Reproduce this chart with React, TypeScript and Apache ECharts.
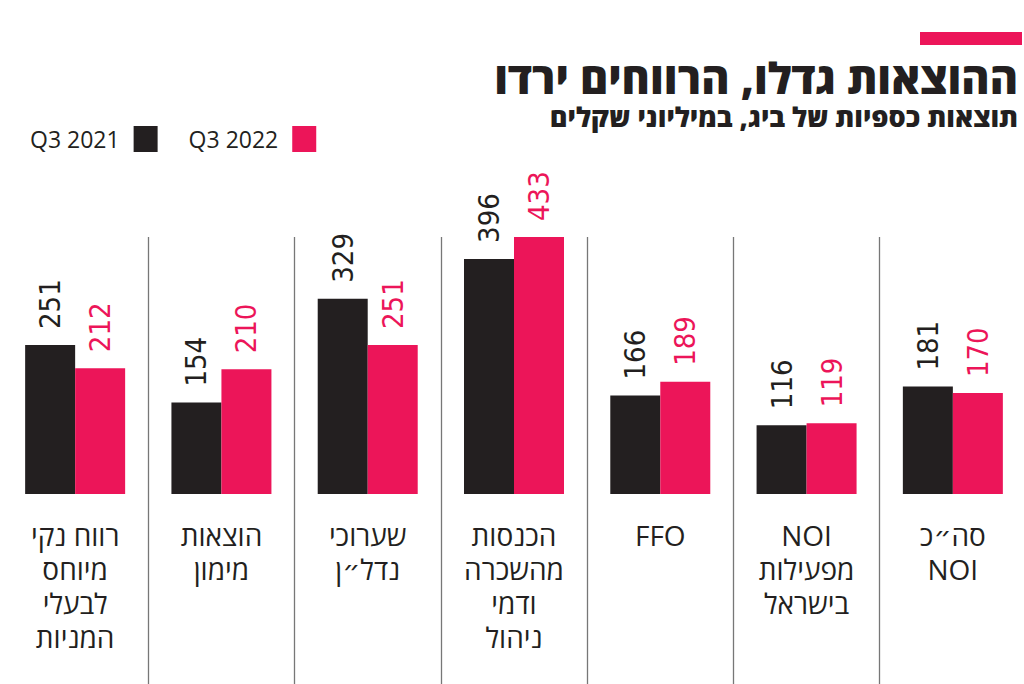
import React, { useEffect, useRef } from "react";
import * as echarts from "echarts";

const categories = [
  "רווח נקי\nמיוחס\nלבעלי\nהמניות",
  "הוצאות\nמימון",
  "שערוכי\nנדל״ן",
  "הכנסות\nמהשכרה\nודמי\nניהול",
  "FFO",
  "NOI\nמפעילות\nבישראל",
  "סה״כ\nNOI",
];
const seriesNames = ["Q3 2021", "Q3 2022"];
const q3_2021 = [251, 154, 329, 396, 166, 116, 181];
const q3_2022 = [212, 210, 251, 433, 189, 119, 170];
const titleText = "ההוצאות גדלו, הרווחים ירדו";
const subtitleText = "תוצאות כספיות של ביג, במיליוני שקלים";

const BLACK = "#231f20";
const PINK = "#ec1559";
const NUM_FONT = "'Liberation Sans Narrow', 'DejaVu Sans Condensed', 'Open Sans', sans-serif";
const TXT_FONT = "'Open Sans', 'DejaVu Sans', sans-serif";

export default function App() {
  const ref = useRef<HTMLDivElement>(null);
  useEffect(() => {
    document.body.style.margin = "0";
    const chart = echarts.init(ref.current!, null, { renderer: "svg" });
    const labelFor = (color: string) => ({
      show: true,
      position: "top",
      distance: 16,
      rotate: 90,
      align: "left",
      verticalAlign: "middle",
      fontSize: 29,
      fontFamily: NUM_FONT,
      color,
    });
    chart.setOption({
      animation: false,
      backgroundColor: "#ffffff",
      title: [
        {
          text: titleText,
          right: 6,
          top: 55,
          padding: 0,
          textStyle: { fontSize: 43, lineHeight: 44, fontWeight: 900, color: BLACK, fontFamily: TXT_FONT },
        },
        {
          text: subtitleText,
          right: 6,
          top: 101,
          padding: 0,
          textStyle: { fontSize: 27, lineHeight: 30, fontWeight: 800, color: BLACK, fontFamily: TXT_FONT },
        },
      ],
      graphic: [
        { type: "rect", shape: { x: 920, y: 32, width: 102, height: 13 }, style: { fill: PINK } },
      ],
      legend: {
        data: seriesNames,
        left: 25,
        top: 121,
        align: "right",
        icon: "rect",
        itemWidth: 24,
        itemHeight: 26,
        itemGap: 31,
        textStyle: { fontSize: 23, color: BLACK, fontFamily: TXT_FONT, padding: [0, 9, 0, 0] },
      },
      grid: [
        { left: 2, width: 1024, top: 237, bottom: 190, containLabel: false, outerBoundsMode: "none" },
        { left: 2, width: 1024, top: 237, bottom: 0, containLabel: false, outerBoundsMode: "none" },
      ],
      xAxis: [
        {
          type: "category",
          gridIndex: 0,
          data: categories,
          axisLine: { show: false },
          axisTick: { show: false },
          splitLine: { show: false },
          axisLabel: {
            interval: 0,
            margin: 24,
            fontSize: 28,
            lineHeight: 34,
            color: BLACK,
            fontFamily: TXT_FONT,
            verticalAlign: "top",
          },
        },
        {
          type: "category",
          gridIndex: 1,
          data: categories,
          axisLine: { show: false },
          axisTick: { show: false },
          axisLabel: { show: false },
          splitLine: {
            show: true,
            interval: 0,
            showMinLine: false,
            lineStyle: { color: "#777777", width: 1.3 },
          },
        },
      ],
      yAxis: [
        { type: "value", gridIndex: 0, min: 0, max: 433, show: false },
        { type: "value", gridIndex: 1, min: 0, max: 1, show: false },
      ],
      series: [
        {
          name: seriesNames[0],
          type: "bar",
          xAxisIndex: 0,
          yAxisIndex: 0,
          data: q3_2021,
          barWidth: 50,
          barGap: "0%",
          itemStyle: { color: BLACK },
          label: labelFor(BLACK),
        },
        {
          name: seriesNames[1],
          type: "bar",
          xAxisIndex: 0,
          yAxisIndex: 0,
          data: q3_2022,
          barWidth: 50,
          itemStyle: { color: PINK },
          label: labelFor(PINK),
        },
      ],
    });
    return () => chart.dispose();
  }, []);
  return <div ref={ref} style={{ width: 1024, height: 684 }} />;
}
